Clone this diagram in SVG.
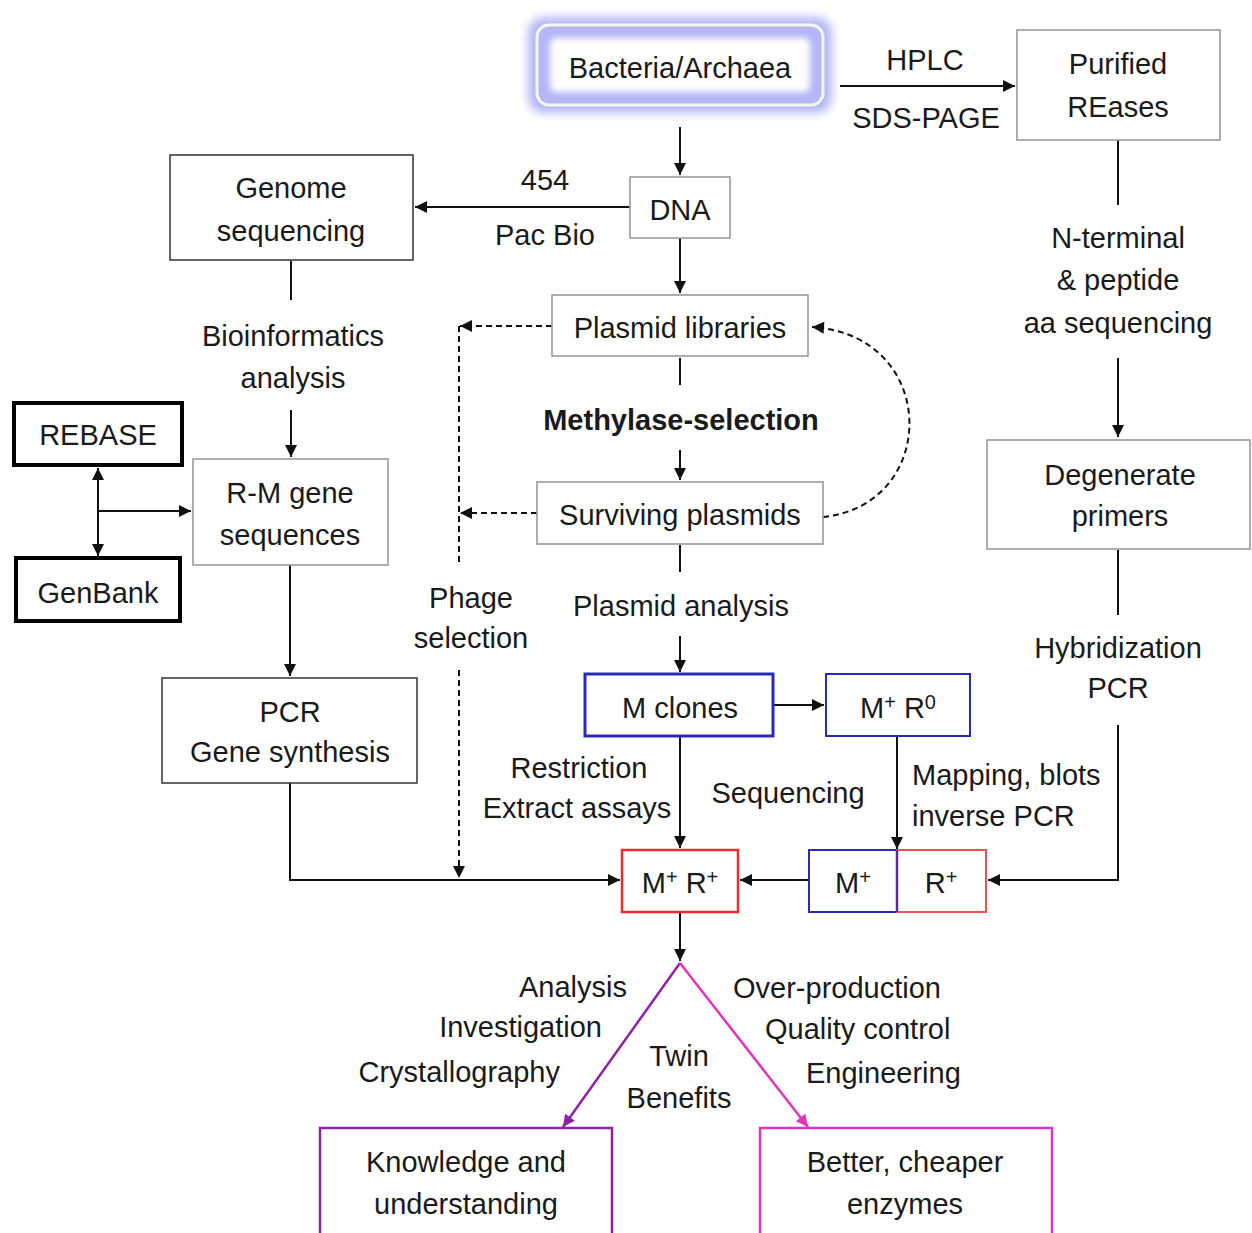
<svg xmlns="http://www.w3.org/2000/svg" width="1252" height="1233" viewBox="0 0 1252 1233">
<style>
text{font-family:"Liberation Sans",Arial,sans-serif;font-size:29px;fill:#1a1a1a;text-anchor:middle}
.st{text-anchor:start}.en{text-anchor:end}.b{font-weight:bold}
.sup{font-size:20px}
.gbox{fill:#fff;stroke:#9a9a9a;stroke-width:1.6}
.kbox{fill:#fff;stroke:#333;stroke-width:1.5}
.thick{fill:#fff;stroke:#000;stroke-width:4}
.blue{fill:#fff;stroke:#2a2ab8;stroke-width:2}
.red{fill:#fff;stroke:#f02a2a;stroke-width:2.5}
.ln{fill:none;stroke:#111;stroke-width:2}
.dash{fill:none;stroke:#111;stroke-width:2;stroke-dasharray:6 4}
</style>
<defs>
<marker id="ah" viewBox="0 0 10 10" refX="10" refY="5" markerWidth="14" markerHeight="12" markerUnits="userSpaceOnUse" orient="auto"><path d="M0,0 L10,5 L0,10 z" fill="#111"/></marker>
<marker id="ahp" viewBox="0 0 10 10" refX="10" refY="5" markerWidth="14" markerHeight="12" markerUnits="userSpaceOnUse" orient="auto"><path d="M0,0 L10,5 L0,10 z" fill="#8e22a8"/></marker>
<marker id="ahm" viewBox="0 0 10 10" refX="10" refY="5" markerWidth="14" markerHeight="12" markerUnits="userSpaceOnUse" orient="auto"><path d="M0,0 L10,5 L0,10 z" fill="#e035b8"/></marker>
<filter id="glow" x="-20%" y="-40%" width="140%" height="180%"><feGaussianBlur stdDeviation="5"/></filter>
<filter id="soft" x="-20%" y="-40%" width="140%" height="180%"><feGaussianBlur stdDeviation="3"/></filter>
</defs>
<rect width="1252" height="1233" fill="#fff"/>

<g id="connectors">
<path class="ln" d="M840 86 H1015" marker-end="url(#ah)"/>
<path class="ln" d="M1118 140 V205"/>
<path class="ln" d="M1118 358 V437" marker-end="url(#ah)"/>
<path class="ln" d="M1118 550 V615"/>
<path class="ln" d="M1118 725 V880 H988" marker-end="url(#ah)"/>
<path class="ln" d="M680 127 V175" marker-end="url(#ah)"/>
<path class="ln" d="M630 207 H415" marker-end="url(#ah)"/>
<path class="ln" d="M291 261 V300"/>
<path class="ln" d="M291 410 V457" marker-end="url(#ah)"/>
<path class="ln" d="M98 511 V468" marker-end="url(#ah)"/>
<path class="ln" d="M98 511 V556" marker-end="url(#ah)"/>
<path class="ln" d="M98 511 H191" marker-end="url(#ah)"/>
<path class="ln" d="M290 565 V676" marker-end="url(#ah)"/>
<path class="ln" d="M290 783 V880 H620" marker-end="url(#ah)"/>
<path class="ln" d="M680 238 V293" marker-end="url(#ah)"/>
<path class="ln" d="M680 358 V385"/>
<path class="ln" d="M680 450 V480" marker-end="url(#ah)"/>
<path class="ln" d="M680 545 V572"/>
<path class="ln" d="M680 636 V672" marker-end="url(#ah)"/>
<path class="ln" d="M773 705 H824" marker-end="url(#ah)"/>
<path class="ln" d="M897 737 V849" marker-end="url(#ah)"/>
<path class="ln" d="M809 880 H740" marker-end="url(#ah)"/>
<path class="ln" d="M680 737 V848" marker-end="url(#ah)"/>
<path class="ln" d="M680 913 V961" marker-end="url(#ah)"/>
<path d="M680 963 L563 1127" fill="none" stroke="#8e22a8" stroke-width="2.5" marker-end="url(#ahp)"/>
<path d="M680 963 L808 1127" fill="none" stroke="#e035b8" stroke-width="2.5" marker-end="url(#ahm)"/>
<path class="dash" d="M552 326 H460" marker-end="url(#ah)"/>
<path class="dash" d="M537 513 H460" marker-end="url(#ah)"/>
<path class="dash" d="M459 326 V565"/>
<path class="dash" d="M459 670 V878" marker-end="url(#ah)"/>
<path class="dash" d="M823 517 C940 505 940 335 812 327" marker-end="url(#ah)"/>
</g>

<g id="labels">
<text x="925" y="70">HPLC</text>
<text x="926" y="128">SDS-PAGE</text>
<text x="545" y="190">454</text>
<text x="545" y="245">Pac Bio</text>
<text x="293" y="346">Bioinformatics</text>
<text x="293" y="388">analysis</text>
<text x="1118" y="248">N-terminal</text>
<text x="1118" y="290">&amp; peptide</text>
<text x="1118" y="333">aa sequencing</text>
<text x="681" y="430" class="b">Methylase-selection</text>
<text x="681" y="616">Plasmid analysis</text>
<text x="471" y="608">Phage</text>
<text x="471" y="648">selection</text>
<text x="1118" y="658">Hybridization</text>
<text x="1118" y="698">PCR</text>
<text x="579" y="778">Restriction</text>
<text x="577" y="818">Extract assays</text>
<text x="788" y="803">Sequencing</text>
<text x="912" y="785" class="st">Mapping, blots</text>
<text x="912" y="826" class="st">inverse PCR</text>
<text x="627" y="997" class="en">Analysis</text>
<text x="602" y="1037" class="en">Investigation</text>
<text x="560" y="1082" class="en">Crystallography</text>
<text x="679" y="1066">Twin</text>
<text x="679" y="1108">Benefits</text>
<text x="733" y="998" class="st">Over-production</text>
<text x="765" y="1039" class="st">Quality control</text>
<text x="806" y="1083" class="st">Engineering</text>
</g>

<g id="bacteria">
<rect x="528" y="17" width="304" height="96" rx="16" fill="#b4b6f6" filter="url(#glow)"/>
<rect x="537" y="25" width="286" height="80" rx="12" fill="none" stroke="#f6f6f0" stroke-width="3"/>
<rect x="550" y="38" width="260" height="54" rx="6" fill="#fff" filter="url(#soft)"/>
<text x="680" y="78">Bacteria/Archaea</text>
</g>
<g id="purified">
<rect class="gbox" x="1017" y="30" width="203" height="110"/>
<text x="1118" y="74">Purified</text>
<text x="1118" y="117">REases</text>
</g>
<g id="degenerate">
<rect class="gbox" x="987" y="440" width="263" height="109"/>
<text x="1120" y="485">Degenerate</text>
<text x="1120" y="526">primers</text>
</g>
<g id="dna">
<rect class="gbox" x="630" y="177" width="100" height="61"/>
<text x="680" y="220">DNA</text>
</g>
<g id="genome">
<rect class="kbox" x="170" y="155" width="243" height="105"/>
<text x="291" y="198">Genome</text>
<text x="291" y="241">sequencing</text>
</g>
<g id="rebase">
<rect class="thick" x="14" y="403" width="168" height="62"/>
<text x="98" y="445">REBASE</text>
</g>
<g id="genbank">
<rect class="thick" x="16" y="558" width="164" height="63"/>
<text x="98" y="603">GenBank</text>
</g>
<g id="rm">
<rect class="gbox" x="193" y="459" width="195" height="106"/>
<text x="290" y="503">R-M gene</text>
<text x="290" y="545">sequences</text>
</g>
<g id="pcr">
<rect class="kbox" x="162" y="678" width="255" height="105"/>
<text x="290" y="722">PCR</text>
<text x="290" y="762">Gene synthesis</text>
</g>
<g id="plasmidlib">
<rect class="gbox" x="552" y="295" width="256" height="61"/>
<text x="680" y="338">Plasmid libraries</text>
</g>
<g id="surviving">
<rect class="gbox" x="537" y="482" width="286" height="62"/>
<text x="680" y="525">Surviving plasmids</text>
</g>
<g id="mclones">
<rect x="585" y="674" width="188" height="62" fill="#fff" stroke="#2a2ab8" stroke-width="3"/>
<text x="680" y="718">M clones</text>
</g>
<g id="mr0">
<rect class="blue" x="826" y="674" width="144" height="62"/>
<text x="898" y="718">M<tspan class="sup" dy="-9">+</tspan><tspan dy="9"> R</tspan><tspan class="sup" dy="-9">0</tspan></text>
</g>
<g id="mplus">
<rect class="blue" x="809" y="850" width="88" height="62"/>
<text x="853" y="893">M<tspan class="sup" dy="-9">+</tspan></text>
</g>
<g id="rplus">
<rect x="897" y="850" width="89" height="62" fill="#fff" stroke="#f05050" stroke-width="2"/>
<line x1="897" y1="850" x2="897" y2="912" stroke="#5a2a9a" stroke-width="2.5"/>
<text x="941" y="893">R<tspan class="sup" dy="-9">+</tspan></text>
</g>
<g id="mrplus">
<rect class="red" x="622" y="850" width="116" height="62"/>
<text x="680" y="893">M<tspan class="sup" dy="-9">+</tspan><tspan dy="9"> R</tspan><tspan class="sup" dy="-9">+</tspan></text>
</g>
<g id="knowledge">
<rect x="320" y="1128" width="292" height="110" fill="#fff" stroke="#8e22a8" stroke-width="2.5"/>
<text x="466" y="1172">Knowledge and</text>
<text x="466" y="1214">understanding</text>
</g>
<g id="better">
<rect x="760" y="1128" width="292" height="110" fill="#fff" stroke="#e035b8" stroke-width="2.5"/>
<text x="905" y="1172">Better, cheaper</text>
<text x="905" y="1214">enzymes</text>
</g>
</svg>
